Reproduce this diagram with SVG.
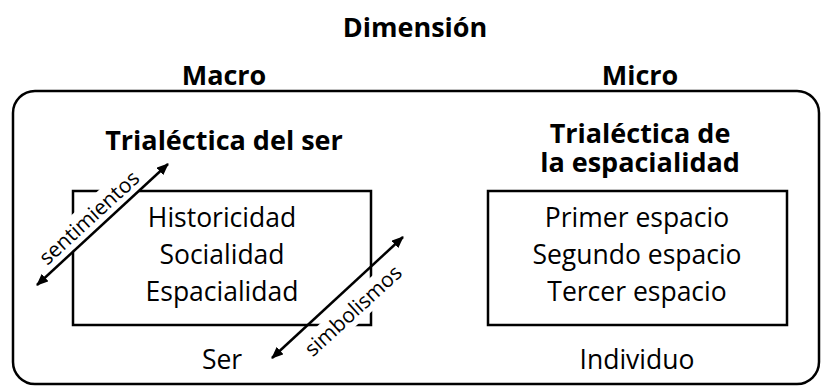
<svg xmlns="http://www.w3.org/2000/svg" width="824" height="389" viewBox="0 0 824 389">
<defs>
<style>
.t{font-family:"Open Sans","Liberation Sans",sans-serif;fill:#000;text-anchor:middle}
.b{font-weight:bold;font-size:27px}
.r{font-size:26.5px}
.l{font-size:21px}
.box{fill:none;stroke:#000;stroke-width:2.5}
.arr{stroke:#000;stroke-width:2.5;fill:none;marker-start:url(#ah);marker-end:url(#ah)}
</style>
<marker id="ah" markerUnits="userSpaceOnUse" viewBox="0 0 12 10" refX="11" refY="5" markerWidth="12" markerHeight="10" orient="auto-start-reverse">
<path d="M0,0 L12,5 L0,10 Z" fill="#000"/>
</marker>
</defs>
<rect width="824" height="389" fill="#fff"/>
<g id="title">
<text class="t b" x="415" y="37">Dimensión</text>
<text class="t b" x="224" y="85">Macro</text>
<text class="t b" x="640" y="85">Micro</text>
</g>
<g id="frame">
<rect class="box" x="13" y="91" width="806" height="293" rx="22"/>
</g>
<g id="macro">
<text class="t b" x="224" y="150">Trialéctica del ser</text>
<rect class="box" x="73" y="191" width="298" height="134"/>
<text class="t r" x="222" y="227">Historicidad</text>
<text class="t r" x="222" y="264">Socialidad</text>
<text class="t r" x="222" y="301">Espacialidad</text>
<text class="t r" x="222" y="369">Ser</text>
</g>
<g id="micro">
<text class="t b" x="640" y="143">Trialéctica de</text>
<text class="t b" x="640" y="172">la espacialidad</text>
<rect class="box" x="488" y="191" width="299" height="134"/>
<text class="t r" x="637" y="227">Primer espacio</text>
<text class="t r" x="637" y="264">Segundo espacio</text>
<text class="t r" x="637" y="301">Tercer espacio</text>
<text class="t r" x="637" y="369">Individuo</text>
</g>
<g id="connectors">
<g transform="translate(94,223) rotate(-42.5)">
<rect x="-67" y="-21" width="134" height="27" fill="#fff"/>
<text class="t l" x="0" y="0">sentimientos</text>
</g>
<g transform="translate(358,316) rotate(-42.5)">
<rect x="-65" y="-20" width="130" height="26" fill="#fff"/>
<text class="t l" x="0" y="0">simbolismos</text>
</g>
<line class="arr" x1="37" y1="285" x2="168" y2="164"/>
<line class="arr" x1="272" y1="358" x2="403" y2="237"/>
</g>
</svg>
